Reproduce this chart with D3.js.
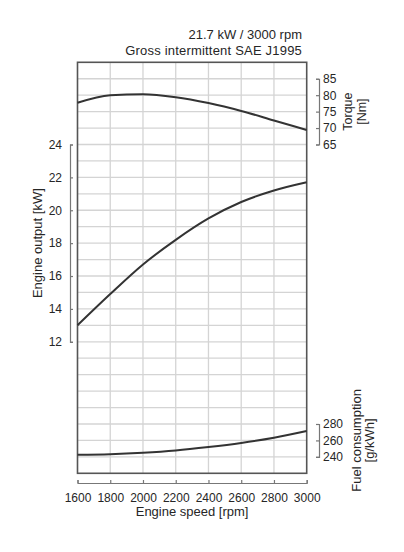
<!DOCTYPE html>
<html>
<head>
<meta charset="utf-8">
<script src="https://cdn.jsdelivr.net/npm/d3@7"></script>
<style>
  html, body { margin: 0; padding: 0; background: #fff; }
  text { font-family: "Liberation Sans", Arial, sans-serif; fill: #262626; }
</style>
</head>
<body>
<svg id="chart" width="404" height="552"></svg>
<script>
// ---- data ----
const rpm = [1600, 1800, 2000, 2200, 2400, 2600, 2800, 3000];
const outputKW = [13.0, 14.9, 16.7, 18.2, 19.5, 20.5, 21.2, 21.7];
const torqueNm = [77.7, 80.0, 80.3, 79.4, 77.6, 75.2, 72.3, 69.4];
const fuelGkWh = [242.5, 243.2, 245.0, 247.8, 252.0, 257.0, 263.3, 271.4];

const xTicks = [1600, 1800, 2000, 2200, 2400, 2600, 2800, 3000];
const kwTicks = [12, 14, 16, 18, 20, 22, 24];
const torqueTicks = [65, 70, 75, 80, 85];
const fuelTicks = [240, 260, 280];

const titleLines = ["21.7 kW / 3000 rpm", "Gross intermittent SAE J1995"];

// ---- layout ----
const svg = d3.select("#chart");
const pL = 77.5, pR = 306.7, pT = 62.3, pB = 473.3;

const x = d3.scaleLinear().domain([1600, 3000]).range([pL, pR]);
// main vertical scale in kW (grid unit = 1 kW)
const y = d3.scaleLinear().domain([4, 29]).range([pB, pT]);
// torque: 65 Nm <-> 24 kW, 5 Nm per grid unit
const yT = d3.scaleLinear().domain([-35, 90]).range([pB, pT]);
// fuel: 240 g/kWh <-> 5 kW, 20 g/kWh per grid unit
const yF = d3.scaleLinear().domain([220, 720]).range([pB, pT]);

// grid
const grid = svg.append("g");
grid.selectAll("line.h").data(d3.range(5, 29)).join("line")
  .attr("x1", pL).attr("x2", pR)
  .attr("y1", d => y(d)).attr("y2", d => y(d))
  .attr("stroke", "#d4d4d4").attr("stroke-width", 1.3);
grid.selectAll("line.v").data(xTicks.slice(1, -1)).join("line")
  .attr("y1", pT).attr("y2", pB)
  .attr("x1", d => x(d)).attr("x2", d => x(d))
  .attr("stroke", "#d4d4d4").attr("stroke-width", 1.3);

// frame
svg.append("rect").attr("x", pL).attr("y", pT)
  .attr("width", pR - pL).attr("height", pB - pT)
  .attr("fill", "none").attr("stroke", "#555").attr("stroke-width", 1.6);

// curves
const lineOf = (ys) => d3.line().x((d, i) => x(rpm[i])).y(d => ys(d)).curve(d3.curveMonotoneX);
[[torqueNm, yT], [outputKW, y], [fuelGkWh, yF]].forEach(([vals, sc]) => {
  svg.append("path").datum(vals).attr("d", lineOf(sc))
    .attr("fill", "none").attr("stroke", "#333").attr("stroke-width", 2);
});

function styleAxis(g) {
  g.selectAll("path.domain").attr("stroke", "#777").attr("stroke-width", 1.2);
  g.selectAll(".tick line").attr("stroke", "#777").attr("stroke-width", 1.2);
  g.selectAll("text").attr("font-size", 12).attr("fill", "#262626")
    .style("font-family", '"Liberation Sans", Arial, sans-serif');
}

// left kW axis
const kwScale = d3.scaleLinear().domain([12, 24]).range([y(12), y(24)]);
svg.append("g").attr("transform", "translate(70,0)")
  .call(d3.axisLeft(kwScale).tickValues(kwTicks).tickSize(-3).tickPadding(8).tickFormat(d3.format("d")))
  .call(styleAxis);

// right torque axis
const tScale = d3.scaleLinear().domain([65, 85]).range([yT(65), yT(85)]);
svg.append("g").attr("transform", "translate(319,0)")
  .call(d3.axisRight(tScale).tickValues(torqueTicks).tickSize(-3).tickPadding(4).tickFormat(d3.format("d")))
  .call(styleAxis);

// right fuel axis
const fScale = d3.scaleLinear().domain([240, 280]).range([yF(240), yF(280)]);
svg.append("g").attr("transform", "translate(319,0)")
  .call(d3.axisRight(fScale).tickValues(fuelTicks).tickSize(-3).tickPadding(4).tickFormat(d3.format("d")))
  .call(styleAxis);

// bottom axis
svg.append("g").attr("transform", "translate(0,483)")
  .call(d3.axisBottom(x).tickValues(xTicks).tickSize(-3).tickPadding(10).tickFormat(d3.format("d")))
  .call(styleAxis);

// titles
svg.append("text").attr("x", 302).attr("y", 39).attr("text-anchor", "end")
  .attr("font-size", 13).text(titleLines[0]);
svg.append("text").attr("x", 302).attr("y", 55).attr("text-anchor", "end")
  .attr("font-size", 13).attr("letter-spacing", 0.2).text(titleLines[1]);

svg.append("text").attr("x", (pL + pR) / 2).attr("y", 516).attr("text-anchor", "middle")
  .attr("font-size", 13).text("Engine speed [rpm]");

svg.append("text").attr("transform", `translate(42,${(y(12) + y(24)) / 2}) rotate(-90)`)
  .attr("text-anchor", "middle").attr("font-size", 13).text("Engine output [kW]");

const tMid = (yT(65) + yT(85)) / 2;
svg.append("text").attr("transform", `translate(352,${tMid}) rotate(-90)`)
  .attr("text-anchor", "middle").attr("font-size", 12.5).text("Torque");
svg.append("text").attr("transform", `translate(366,${tMid}) rotate(-90)`)
  .attr("text-anchor", "middle").attr("font-size", 12.5).text("[Nm]");

const fMid = (yF(240) + yF(280)) / 2;
svg.append("text").attr("transform", `translate(361,${fMid}) rotate(-90)`)
  .attr("text-anchor", "middle").attr("font-size", 13).text("Fuel consumption");
svg.append("text").attr("transform", `translate(374,${fMid}) rotate(-90)`)
  .attr("text-anchor", "middle").attr("font-size", 13).text("[g/kWh]");
</script>
</body>
</html>
